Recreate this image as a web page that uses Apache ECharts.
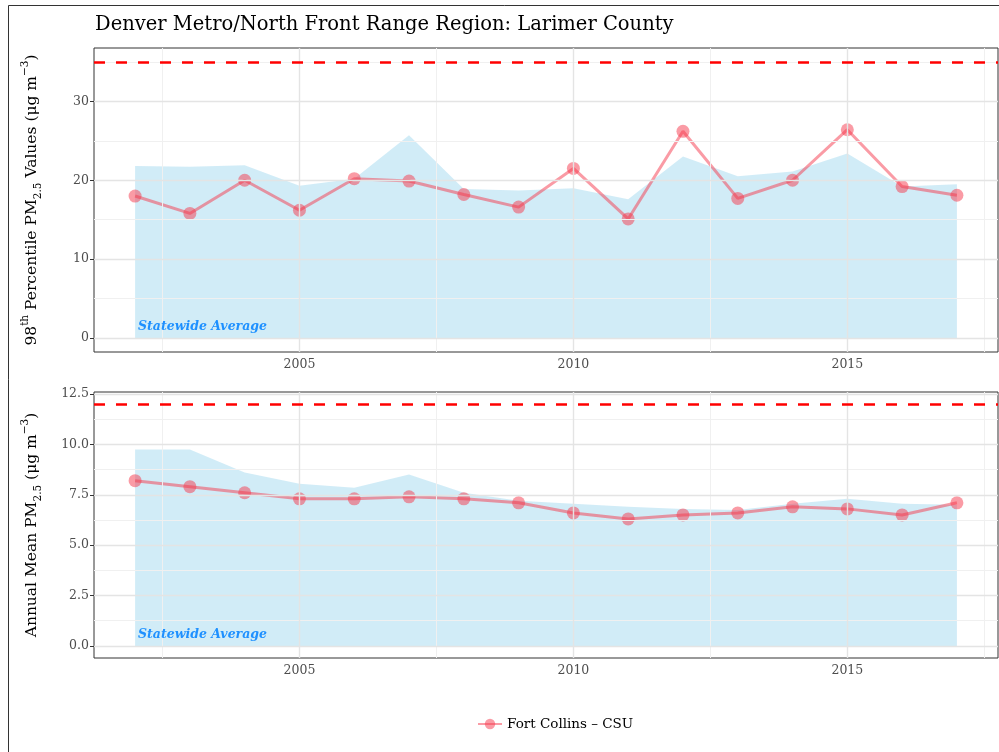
<!DOCTYPE html>
<html><head><meta charset="utf-8">
<script src="https://cdn.jsdelivr.net/npm/echarts@6/dist/echarts.min.js"></script>
<style>html,body{margin:0;padding:0;background:#fff}#c{width:999px;height:752px}</style>
</head><body><div id="c"></div>
<script>
const years = [2002,2003,2004,2005,2006,2007,2008,2009,2010,2011,2012,2013,2014,2015,2016,2017];
const site98 = [18.0,15.8,20.0,16.2,20.2,19.9,18.2,16.6,21.5,15.1,26.2,17.7,20.0,26.4,19.2,18.1];
const state98 = [21.8,21.7,21.9,19.3,20.2,25.7,18.9,18.7,19.0,17.6,23.0,20.5,21.1,23.4,19.2,19.5];
const siteMean = [8.2,7.9,7.6,7.3,7.3,7.4,7.3,7.1,6.6,6.3,6.5,6.6,6.9,6.8,6.5,7.1];
const stateMean = [9.75,9.75,8.6,8.05,7.85,8.5,7.6,7.2,7.05,6.9,6.8,6.75,7.05,7.3,7.05,7.0];
const standard98 = 35;
const standardMean = 12;
const xTicks = [2005, 2010, 2015];
const xMinor = [2002.5, 2007.5, 2012.5, 2017.5];
const y98Ticks = [0, 10, 20, 30];
const y98Minor = [5, 15, 25, 35];
const yMeanTicks = [0, 2.5, 5, 7.5, 10, 12.5];
const yMeanMinor = [1.25, 3.75, 6.25, 8.75, 11.25];
const siteName = 'Fort Collins \u2013 CSU';
const stateLabel = 'Statewide Average';
const titleText = 'Denver Metro/North Front Range Region: Larimer County';

const FONT = 'DejaVu Serif';
const pair = (vals) => years.map((y, i) => [y, vals[i]]);
const siteColor = 'rgba(245,55,75,0.5)';
const areaColor = 'rgba(135,206,235,0.38)';

function gridLines(xMaj, xMin, yMaj, yMin) {
  const d = [];
  xMin.forEach(v => d.push({xAxis: v, lineStyle: {color: '#f0f0f0', width: 1, type: 'solid'}}));
  yMin.forEach(v => d.push({yAxis: v, lineStyle: {color: '#f0f0f0', width: 1, type: 'solid'}}));
  xMaj.forEach(v => d.push({xAxis: v, lineStyle: {color: '#e4e4e4', width: 1.4, type: 'solid'}}));
  yMaj.forEach(v => d.push({yAxis: v, lineStyle: {color: '#e4e4e4', width: 1.4, type: 'solid'}}));
  return d;
}

const axisNameRich = {
  n: {fontFamily: FONT, fontSize: 15.5, color: '#000', lineHeight: 24, verticalAlign: 'middle'},
  sup: {fontFamily: FONT, fontSize: 10.5, color: '#000', verticalAlign: 'top', lineHeight: 24},
  sub: {fontFamily: FONT, fontSize: 10.5, color: '#000', verticalAlign: 'bottom', lineHeight: 24}
};

function xAxisCfg(gi) {
  return {
    type: 'value', gridIndex: gi, min: 2001.25, max: 2017.75,
    splitLine: {show: false},
    axisLine: {show: false},
    axisTick: {show: true, length: 4, inside: false, lineStyle: {color: '#333333', width: 1}, customValues: xTicks},
    axisLabel: {color: '#4d4d4d', fontFamily: FONT, fontSize: 12.5, margin: 6, customValues: xTicks,
      formatter: v => (xTicks.indexOf(v) >= 0 ? String(v) : '')}
  };
}

function yAxisCfg(gi, mn, mx, ticks, fmt, nameParts) {
  return {
    type: 'value', gridIndex: gi, min: mn, max: mx,
    splitLine: {show: false},
    axisLine: {show: false},
    axisTick: {show: true, length: 4, lineStyle: {color: '#333333', width: 1}, customValues: ticks},
    axisLabel: {color: '#4d4d4d', fontFamily: FONT, fontSize: 12.5, margin: 5, customValues: ticks,
      formatter: v => (ticks.indexOf(v) >= 0 ? fmt(v) : '')},
    name: nameParts, nameLocation: 'middle', nameRotate: 90, nameGap: 50,
    nameTextStyle: {rich: axisNameRich, fontFamily: FONT, fontSize: 15.5, color: '#000'}
  };
}

const option = {
  animation: false,
  backgroundColor: '#ffffff',
  title: {text: titleText, left: 90, top: 10,
    textStyle: {fontFamily: FONT, fontSize: 19.5, fontWeight: 'normal', color: '#000'}},
  legend: {data: [siteName], left: 472, top: 712, itemWidth: 24, itemHeight: 13, itemGap: 10,
    textStyle: {fontFamily: FONT, fontSize: 13.5, color: '#000'}},
  grid: [
    {left: 94, right: 1, top: 48, height: 304, show: true, borderColor: '#333333', borderWidth: 1, backgroundColor: '#fff'},
    {left: 94, right: 1, top: 392, height: 266, show: true, borderColor: '#333333', borderWidth: 1, backgroundColor: '#fff'}
  ],
  xAxis: [xAxisCfg(0), xAxisCfg(1)],
  yAxis: [
    yAxisCfg(0, -1.75, 36.75, y98Ticks, v => String(v), '{n|98}{sup|th}{n| Percentile PM}{sub|2.5}{n| Values (\u03bcg m}{sup|\u22123}{n|)}'),
    yAxisCfg(1, -0.6, 12.6, yMeanTicks, v => v.toFixed(1), '{n|Annual Mean PM}{sub|2.5}{n| (\u03bcg m}{sup|\u22123}{n|)}')
  ],
  graphic: [
    {type: 'rect', shape: {x: 8.5, y: 5.5, width: 1100, height: 800}, style: {fill: 'none', stroke: '#333333', lineWidth: 1}, z: 100, silent: true},
    {type: 'text', left: 138, top: 320, style: {text: stateLabel, fontFamily: FONT, fontSize: 12.5, fontStyle: 'italic', fontWeight: 'bold', fill: '#1e90ff'}, z: 50},
    {type: 'text', left: 138, top: 628, style: {text: stateLabel, fontFamily: FONT, fontSize: 12.5, fontStyle: 'italic', fontWeight: 'bold', fill: '#1e90ff'}, z: 50}
  ],
  series: [
    {type: 'line', name: 'grid98', xAxisIndex: 0, yAxisIndex: 0, z: 1, silent: true, data: pair(state98),
      showSymbol: false, lineStyle: {opacity: 0},
      markLine: {silent: true, symbol: ['none', 'none'], label: {show: false}, animation: false,
        data: gridLines(xTicks, xMinor, y98Ticks, y98Minor)}},
    {type: 'line', name: 'gridMean', xAxisIndex: 1, yAxisIndex: 1, z: 1, silent: true, data: pair(stateMean),
      showSymbol: false, lineStyle: {opacity: 0},
      markLine: {silent: true, symbol: ['none', 'none'], label: {show: false}, animation: false,
        data: gridLines(xTicks, xMinor, yMeanTicks, yMeanMinor)}},
    {type: 'line', name: 'state98', xAxisIndex: 0, yAxisIndex: 0, z: 2, silent: true, data: pair(state98),
      showSymbol: false, lineStyle: {width: 0, opacity: 0}, areaStyle: {color: areaColor, opacity: 1}},
    {type: 'line', name: 'stateMean', xAxisIndex: 1, yAxisIndex: 1, z: 2, silent: true, data: pair(stateMean),
      showSymbol: false, lineStyle: {width: 0, opacity: 0}, areaStyle: {color: areaColor, opacity: 1}},
    {type: 'line', name: siteName, xAxisIndex: 0, yAxisIndex: 0, z: 3, data: pair(site98),
      symbol: 'circle', symbolSize: 13, showSymbol: true,
      itemStyle: {color: siteColor, borderWidth: 0}, lineStyle: {color: siteColor, width: 3},
      markLine: {silent: true, symbol: ['none', 'none'], label: {show: false}, animation: false,
        lineStyle: {color: '#ff0000', width: 2.5, type: [11, 11]}, data: [{yAxis: standard98}]}},
    {type: 'line', name: siteName, xAxisIndex: 1, yAxisIndex: 1, z: 3, data: pair(siteMean),
      symbol: 'circle', symbolSize: 13, showSymbol: true,
      itemStyle: {color: siteColor, borderWidth: 0}, lineStyle: {color: siteColor, width: 3},
      markLine: {silent: true, symbol: ['none', 'none'], label: {show: false}, animation: false,
        lineStyle: {color: '#ff0000', width: 2.5, type: [11, 11]}, data: [{yAxis: standardMean}]}}
  ]
};
const chart = echarts.init(document.getElementById('c'), null, {renderer: 'canvas'});
chart.setOption(option);
</script></body></html>
